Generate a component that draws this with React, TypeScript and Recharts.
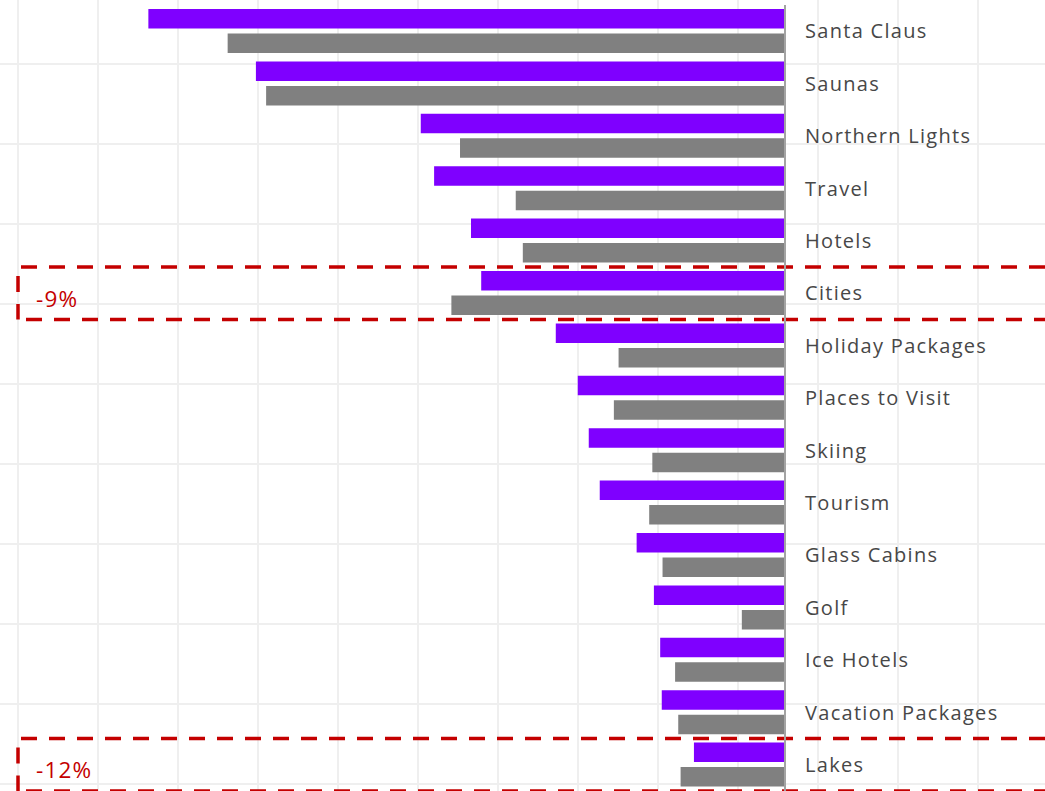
import React from 'react';
import { BarChart, Bar, XAxis, YAxis, ReferenceArea } from 'recharts';

// search interest per topic, this season (purple) vs last season (gray)
const categories = [
  'Santa Claus',
  'Saunas',
  'Northern Lights',
  'Travel',
  'Hotels',
  'Cities',
  'Holiday Packages',
  'Places to Visit',
  'Skiing',
  'Tourism',
  'Glass Cabins',
  'Golf',
  'Ice Hotels',
  'Vacation Packages',
  'Lakes',
];
const current = [81.1, 67.4, 46.4, 44.7, 40.0, 38.7, 29.2, 26.4, 25.0, 23.6, 18.9, 16.7, 15.9, 15.7, 11.6];
const previous = [71.0, 66.1, 41.4, 34.3, 33.4, 42.5, 21.2, 21.8, 16.9, 17.3, 15.6, 5.5, 14.0, 13.6, 13.3];

const annotationCategories = ['Cities', 'Lakes'];
const annotationLabels = ['-9%', '-12%'];

const WIDTH = 1045;
const HEIGHT = 791;
const RED = '#c40000';

const data = categories.map((name, i) => ({
  name,
  current: current[i],
  previous: previous[i],
}));

// dashed box spanning the whole row, from the left grid line to past the right edge
const AnnotationBox = (props: any) => {
  const { y, height, label } = props;
  if (y == null || height == null) return null;
  const left = 18;
  const right = WIDTH + 10;
  const top = y;
  const bottom = y + height;
  return (
    <g>
      <line x1={left + 3} y1={top} x2={right} y2={top} stroke={RED} strokeWidth={3.5} strokeDasharray="16 12" />
      <line x1={left + 8} y1={bottom} x2={right} y2={bottom} stroke={RED} strokeWidth={3.5} strokeDasharray="16 12" />
      <line x1={left} y1={top + 9} x2={left} y2={bottom} stroke={RED} strokeWidth={3.5} strokeDasharray="16 12" />
      <text
        x={36}
        y={top + height / 2 + 5}
        dominantBaseline="central"
        fill={RED}
        fontSize={22.5}
        fontFamily="'Open Sans', sans-serif"
        letterSpacing={1.2}
      >
        {label}
      </text>
    </g>
  );
};

export default function App() {
  return (
    <div
      style={{
        position: 'absolute',
        left: 0,
        top: 0,
        width: WIDTH,
        height: HEIGHT,
        background: '#fff',
        backgroundImage:
          'linear-gradient(to right, #efefef 2px, transparent 2px), linear-gradient(to bottom, #efefef 2px, transparent 2px)',
        backgroundSize: '80px 80px',
        backgroundPosition: '17px 63px',
        overflow: 'hidden',
      }}
    >
      <BarChart
        width={WIDTH}
        height={HEIGHT}
        data={data}
        layout="vertical"
        margin={{ top: 5, right: 0, bottom: 0, left: 0 }}
        barGap={5}
        barSize={19.5}
      >
        <XAxis type="number" domain={[0, 100]} reversed hide />
        <YAxis
          type="category"
          dataKey="name"
          orientation="right"
          width={260}
          axisLine={{ stroke: '#a3a3a3', strokeWidth: 2 }}
          tickLine={false}
          tickSize={0}
          tickMargin={20}
          interval={0}
          tick={{ fill: '#474747', fontSize: 20, fontFamily: "'Open Sans', sans-serif", letterSpacing: 1.3 }}
        />
        <Bar dataKey="current" fill="#7f00ff" isAnimationActive={false} />
        <Bar dataKey="previous" fill="#808080" isAnimationActive={false} />
        {annotationCategories.map((cat, i) => (
          <ReferenceArea
            key={cat}
            y1={cat}
            y2={cat}
            ifOverflow="visible"
            shape={(p: any) => <AnnotationBox {...p} label={annotationLabels[i]} />}
          />
        ))}
      </BarChart>
    </div>
  );
}
